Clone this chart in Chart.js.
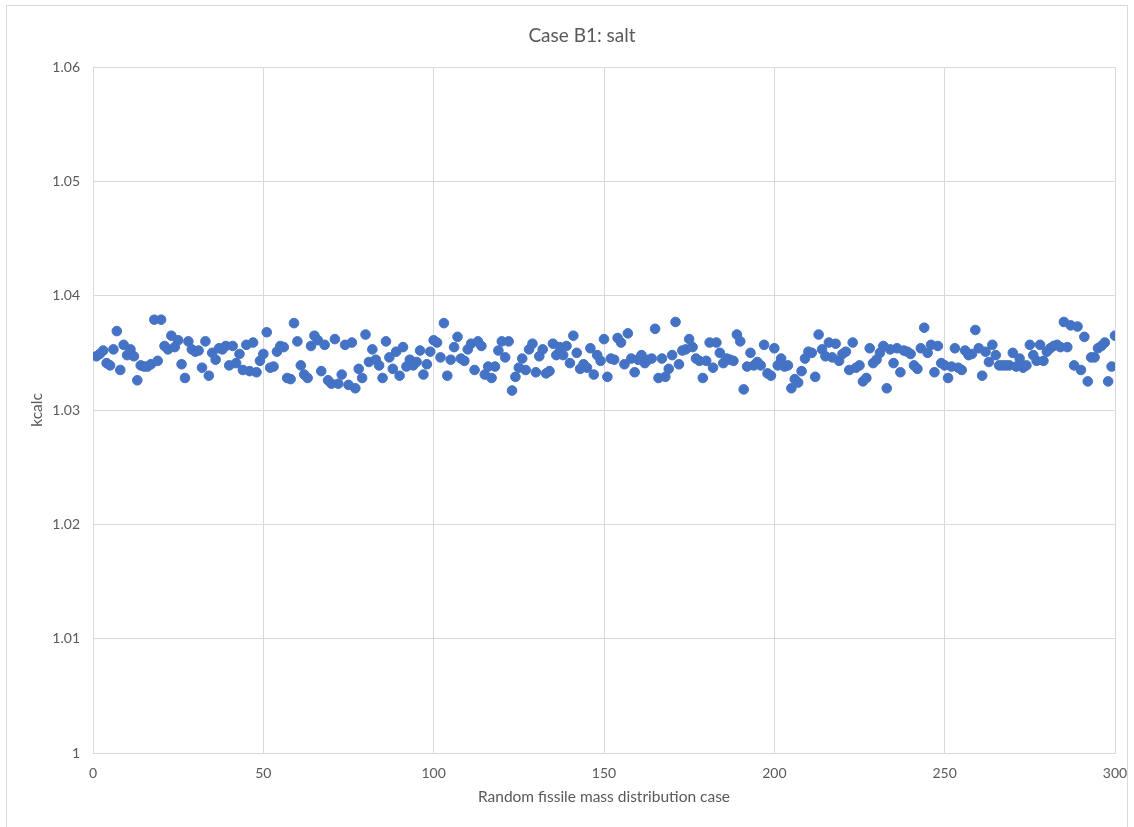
<!DOCTYPE html>
<html>
<head>
<meta charset="utf-8">
<script src="https://cdn.jsdelivr.net/npm/chart.js@4"></script>
<style>
  html, body { margin: 0; padding: 0; background: #ffffff; }
  canvas { display: block; }
</style>
</head>
<body>
<canvas id="chart" width="1134" height="827"></canvas>
<script>
// kcalc for each random fissile mass distribution case (1..300)
const kcalc = [
  1.0347, 1.0349, 1.0352, 1.0341, 1.0339, 1.0353, 1.0369, 1.0335, 1.0357, 1.0348,
  1.0353, 1.0347, 1.0326, 1.0339, 1.0338, 1.0338, 1.0340, 1.0379, 1.0343, 1.0379,
  1.0356, 1.0353, 1.0365, 1.0355, 1.0361, 1.0340, 1.0328, 1.0360, 1.0353, 1.0351,
  1.0352, 1.0337, 1.0360, 1.0330, 1.0350, 1.0344, 1.0354, 1.0353, 1.0356, 1.0339,
  1.0356, 1.0341, 1.0349, 1.0335, 1.0357, 1.0334, 1.0359, 1.0333, 1.0343, 1.0349,
  1.0368, 1.0337, 1.0338, 1.0351, 1.0356, 1.0355, 1.0328, 1.0327, 1.0376, 1.0360,
  1.0339, 1.0331, 1.0328, 1.0356, 1.0365, 1.0361, 1.0334, 1.0357, 1.0326, 1.0323,
  1.0362, 1.0323, 1.0331, 1.0357, 1.0322, 1.0359, 1.0319, 1.0336, 1.0328, 1.0366,
  1.0342, 1.0353, 1.0344, 1.0339, 1.0328, 1.0360, 1.0346, 1.0336, 1.0351, 1.0330,
  1.0355, 1.0338, 1.0344, 1.0339, 1.0342, 1.0352, 1.0331, 1.0340, 1.0351, 1.0361,
  1.0359, 1.0346, 1.0376, 1.0330, 1.0344, 1.0355, 1.0364, 1.0345, 1.0343, 1.0353,
  1.0358, 1.0335, 1.0360, 1.0356, 1.0331, 1.0338, 1.0328, 1.0338, 1.0352, 1.0360,
  1.0346, 1.0360, 1.0317, 1.0329, 1.0337, 1.0345, 1.0335, 1.0353, 1.0358, 1.0333,
  1.0347, 1.0353, 1.0332, 1.0334, 1.0358, 1.0348, 1.0355, 1.0348, 1.0356, 1.0341,
  1.0365, 1.0350, 1.0336, 1.0340, 1.0337, 1.0354, 1.0331, 1.0348, 1.0343, 1.0362,
  1.0329, 1.0345, 1.0344, 1.0363, 1.0359, 1.0340, 1.0367, 1.0345, 1.0333, 1.0344,
  1.0348, 1.0341, 1.0344, 1.0345, 1.0371, 1.0328, 1.0345, 1.0329, 1.0336, 1.0348,
  1.0377, 1.0340, 1.0352, 1.0353, 1.0362, 1.0355, 1.0345, 1.0343, 1.0328, 1.0343,
  1.0359, 1.0337, 1.0359, 1.0350, 1.0341, 1.0345, 1.0344, 1.0343, 1.0366, 1.0360,
  1.0318, 1.0338, 1.0350, 1.0339, 1.0342, 1.0339, 1.0357, 1.0332, 1.0330, 1.0354,
  1.0339, 1.0345, 1.0338, 1.0339, 1.0319, 1.0327, 1.0324, 1.0334, 1.0345, 1.0351,
  1.0350, 1.0329, 1.0366, 1.0353, 1.0347, 1.0359, 1.0346, 1.0358, 1.0343, 1.0349,
  1.0351, 1.0335, 1.0359, 1.0337, 1.0339, 1.0325, 1.0328, 1.0354, 1.0341, 1.0344,
  1.0350, 1.0356, 1.0319, 1.0353, 1.0341, 1.0354, 1.0333, 1.0352, 1.0351, 1.0349,
  1.0339, 1.0336, 1.0354, 1.0372, 1.0350, 1.0357, 1.0333, 1.0356, 1.0341, 1.0339,
  1.0328, 1.0338, 1.0354, 1.0337, 1.0335, 1.0352, 1.0348, 1.0349, 1.0370, 1.0354,
  1.0330, 1.0351, 1.0342, 1.0357, 1.0348, 1.0339, 1.0339, 1.0339, 1.0339, 1.0350,
  1.0338, 1.0345, 1.0337, 1.0339, 1.0357, 1.0348, 1.0343, 1.0357, 1.0343, 1.0351,
  1.0354, 1.0356, 1.0357, 1.0355, 1.0377, 1.0355, 1.0374, 1.0339, 1.0373, 1.0335,
  1.0364, 1.0325, 1.0346, 1.0346, 1.0354, 1.0356, 1.0359, 1.0325, 1.0338, 1.0365
];
const caseNumbers = kcalc.map((_, i) => i + 1);

const chartTitle = 'Case B1: salt';
const xAxisTitle = 'Random fissile mass distribution case';
const yAxisTitle = 'kcalc';
const xTicks = [0, 50, 100, 150, 200, 250, 300];
const yTicks = [1, 1.01, 1.02, 1.03, 1.04, 1.05, 1.06];

const points = caseNumbers.map((c, i) => ({ x: c, y: kcalc[i] }));

const textColor = '#595959';
const gridColor = '#d9d9d9';
const fontFamily = 'Lato, "Open Sans", "Liberation Sans", sans-serif';

// white background with a thin frame around the chart
const frame = {
  id: 'frame',
  beforeDraw(chart) {
    const ctx = chart.ctx;
    ctx.save();
    ctx.fillStyle = '#ffffff';
    ctx.fillRect(0, 0, chart.width, chart.height);
    ctx.strokeStyle = gridColor;
    ctx.lineWidth = 1;
    ctx.strokeRect(6.5, 5.5, 1121, 830);
    ctx.restore();
  }
};

// chart heading, centred a little right of the canvas middle
const heading = {
  id: 'heading',
  afterDraw(chart) {
    const ctx = chart.ctx;
    ctx.save();
    ctx.fillStyle = textColor;
    ctx.font = '19px ' + fontFamily;
    ctx.textAlign = 'center';
    ctx.textBaseline = 'middle';
    ctx.fillText(chartTitle, 582, 36);
    ctx.restore();
  }
};

new Chart(document.getElementById('chart'), {
  type: 'scatter',
  data: {
    datasets: [{
      label: yAxisTitle,
      data: points,
      backgroundColor: '#4472C4',
      borderColor: '#4472C4',
      borderWidth: 1,
      pointRadius: 4.8,
      pointHoverRadius: 4.8
    }]
  },
  options: {
    responsive: false,
    animation: false,
    devicePixelRatio: 1,
    layout: { padding: { left: 20, right: 19, top: 67, bottom: 0 } },
    plugins: {
      legend: { display: false },
      tooltip: { enabled: false },
      title: { display: false }
    },
    scales: {
      x: {
        type: 'linear',
        min: xTicks[0],
        max: xTicks[xTicks.length - 1],
        afterBuildTicks(scale) { scale.ticks = xTicks.map(v => ({ value: v })); },
        afterFit(scale) {
          scale.height = 74;
          scale.paddingLeft = 0;
          scale.paddingRight = 0;
        },
        grid: { color: gridColor, lineWidth: 1, drawTicks: false },
        border: { color: gridColor },
        ticks: {
          color: textColor,
          padding: 12,
          font: { family: fontFamily, size: 14 },
          maxRotation: 0,
          callback: v => String(v)
        },
        title: {
          display: true,
          text: xAxisTitle,
          color: textColor,
          font: { family: fontFamily, size: 15.5 },
          padding: { top: 0, bottom: 21 }
        }
      },
      y: {
        type: 'linear',
        min: yTicks[0],
        max: yTicks[yTicks.length - 1],
        afterBuildTicks(scale) { scale.ticks = yTicks.map(v => ({ value: v })); },
        afterFit(scale) {
          scale.width = 73;
          scale.paddingTop = 0;
          scale.paddingBottom = 0;
        },
        grid: { color: gridColor, lineWidth: 1, drawTicks: false },
        border: { color: gridColor },
        ticks: {
          color: textColor,
          padding: 13,
          font: { family: fontFamily, size: 14 },
          callback: v => String(Number(v.toFixed(2)))
        },
        title: {
          display: true,
          text: yAxisTitle,
          color: textColor,
          font: { family: fontFamily, size: 15.5 },
          padding: { top: 8, bottom: 0 }
        }
      }
    }
  },
  plugins: [frame, heading]
});
</script>
</body>
</html>
